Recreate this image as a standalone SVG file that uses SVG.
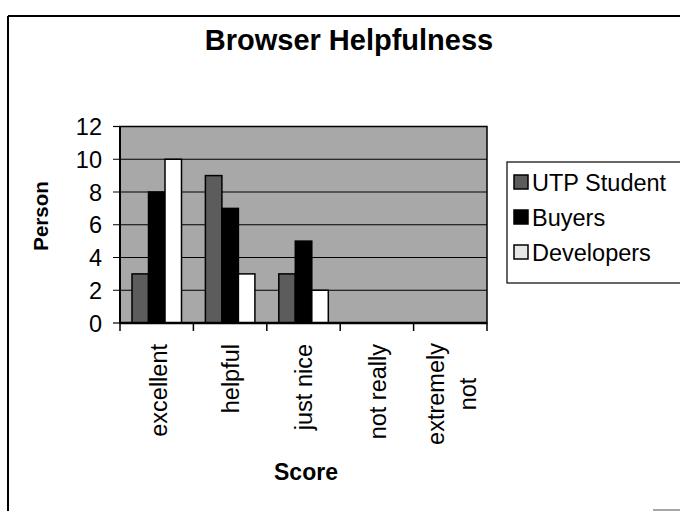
<svg xmlns="http://www.w3.org/2000/svg" width="680" height="511" viewBox="0 0 680 511">
<style>
text{font-family:"Liberation Sans",Arial,sans-serif;fill:#000}
.title{font-size:29px;font-weight:bold;text-anchor:middle}
.axt{font-size:23px;font-weight:bold;text-anchor:middle}
.ylab{font-size:20.5px}
.tick{font-size:23.5px;text-anchor:end}
.cat{font-size:23.5px;text-anchor:end}
.mid{text-anchor:middle}
.leg{font-size:23.5px}
.grid{stroke:#000;stroke-width:1.2}
.bar{stroke:#000;stroke-width:1.5}
.utp{fill:#5c5c5c}
.buy{fill:#000}
.dev{fill:#fff}
</style>
<rect x="0" y="0" width="680" height="511" fill="#fff"/>
<g id="frame">
<line x1="8" y1="16" x2="680" y2="16" stroke="#000" stroke-width="2"/>
<line x1="8" y1="16" x2="8" y2="511" stroke="#000" stroke-width="2"/>
<line x1="653" y1="510" x2="680" y2="510" stroke="#888" stroke-width="1.5"/>
</g>
<g id="title"><text class="title" x="349" y="50">Browser Helpfulness</text></g>
<g id="plot">
<rect x="120" y="126.5" width="367" height="196.5" fill="#a8a8a8" stroke="#000" stroke-width="1.5"/>
<line class="grid" x1="113" y1="159.25" x2="487" y2="159.25"/>
<line class="grid" x1="113" y1="192" x2="487" y2="192"/>
<line class="grid" x1="113" y1="224.75" x2="487" y2="224.75"/>
<line class="grid" x1="113" y1="257.5" x2="487" y2="257.5"/>
<line class="grid" x1="113" y1="290.25" x2="487" y2="290.25"/>
<line class="grid" x1="113" y1="126.5" x2="120" y2="126.5"/>
<line class="grid" x1="113" y1="323" x2="120" y2="323"/>
</g>
<g id="bars">
<rect class="bar utp" x="132" y="273.9" width="16.5" height="49.1"/>
<rect class="bar buy" x="148.5" y="192" width="16.5" height="131"/>
<rect class="bar dev" x="165" y="159.25" width="16.5" height="163.75"/>
<rect class="bar utp" x="205.4" y="175.6" width="16.5" height="147.4"/>
<rect class="bar buy" x="221.9" y="208.4" width="16.5" height="114.6"/>
<rect class="bar dev" x="238.4" y="273.9" width="16.5" height="49.1"/>
<rect class="bar utp" x="278.8" y="273.9" width="16.5" height="49.1"/>
<rect class="bar buy" x="295.3" y="241.1" width="16.5" height="81.9"/>
<rect class="bar dev" x="311.8" y="290.25" width="16.5" height="32.75"/>
</g>
<g id="axes">
<line x1="120" y1="126.5" x2="120" y2="323" stroke="#000" stroke-width="2"/>
<line x1="120" y1="323" x2="487" y2="323" stroke="#000" stroke-width="2.5"/>
<line x1="120" y1="323" x2="120" y2="331" stroke="#000" stroke-width="1.5"/>
<line x1="193.4" y1="323" x2="193.4" y2="331" stroke="#000" stroke-width="1.5"/>
<line x1="266.8" y1="323" x2="266.8" y2="331" stroke="#000" stroke-width="1.5"/>
<line x1="340.2" y1="323" x2="340.2" y2="331" stroke="#000" stroke-width="1.5"/>
<line x1="413.6" y1="323" x2="413.6" y2="331" stroke="#000" stroke-width="1.5"/>
<line x1="487" y1="323" x2="487" y2="331" stroke="#000" stroke-width="1.5"/>
</g>
<g id="y-labels">
<text class="tick" x="102" y="135">12</text>
<text class="tick" x="102" y="167.75">10</text>
<text class="tick" x="102" y="200.5">8</text>
<text class="tick" x="102" y="233.25">6</text>
<text class="tick" x="102" y="266">4</text>
<text class="tick" x="102" y="298.75">2</text>
<text class="tick" x="102" y="331.5">0</text>
</g>
<g id="x-labels">
<text class="cat" transform="translate(167,344) rotate(-90)">excellent</text>
<text class="cat" transform="translate(239,344) rotate(-90)">helpful</text>
<text class="cat" transform="translate(312,344) rotate(-90)">just nice</text>
<text class="cat" transform="translate(386,344) rotate(-90)">not really</text>
<text class="cat mid" transform="translate(444,394) rotate(-90)">extremely</text>
<text class="cat mid" transform="translate(476,394) rotate(-90)">not</text>
</g>
<g id="axis-titles">
<text class="axt ylab" transform="translate(48,216) rotate(-90)">Person</text>
<text class="axt" x="306" y="480">Score</text>
</g>
<g id="legend">
<rect x="507" y="162" width="180" height="121" fill="#fff" stroke="#000" stroke-width="1.2"/>
<rect class="bar utp" x="514" y="175" width="14" height="14"/>
<text class="leg" x="532" y="190.5">UTP Student</text>
<rect class="bar buy" x="514" y="210" width="14" height="14"/>
<text class="leg" x="532" y="225.5">Buyers</text>
<rect class="bar" x="514" y="245" width="14" height="14" fill="#e6e6e6"/>
<text class="leg" x="532" y="260.5">Developers</text>
</g>
</svg>
